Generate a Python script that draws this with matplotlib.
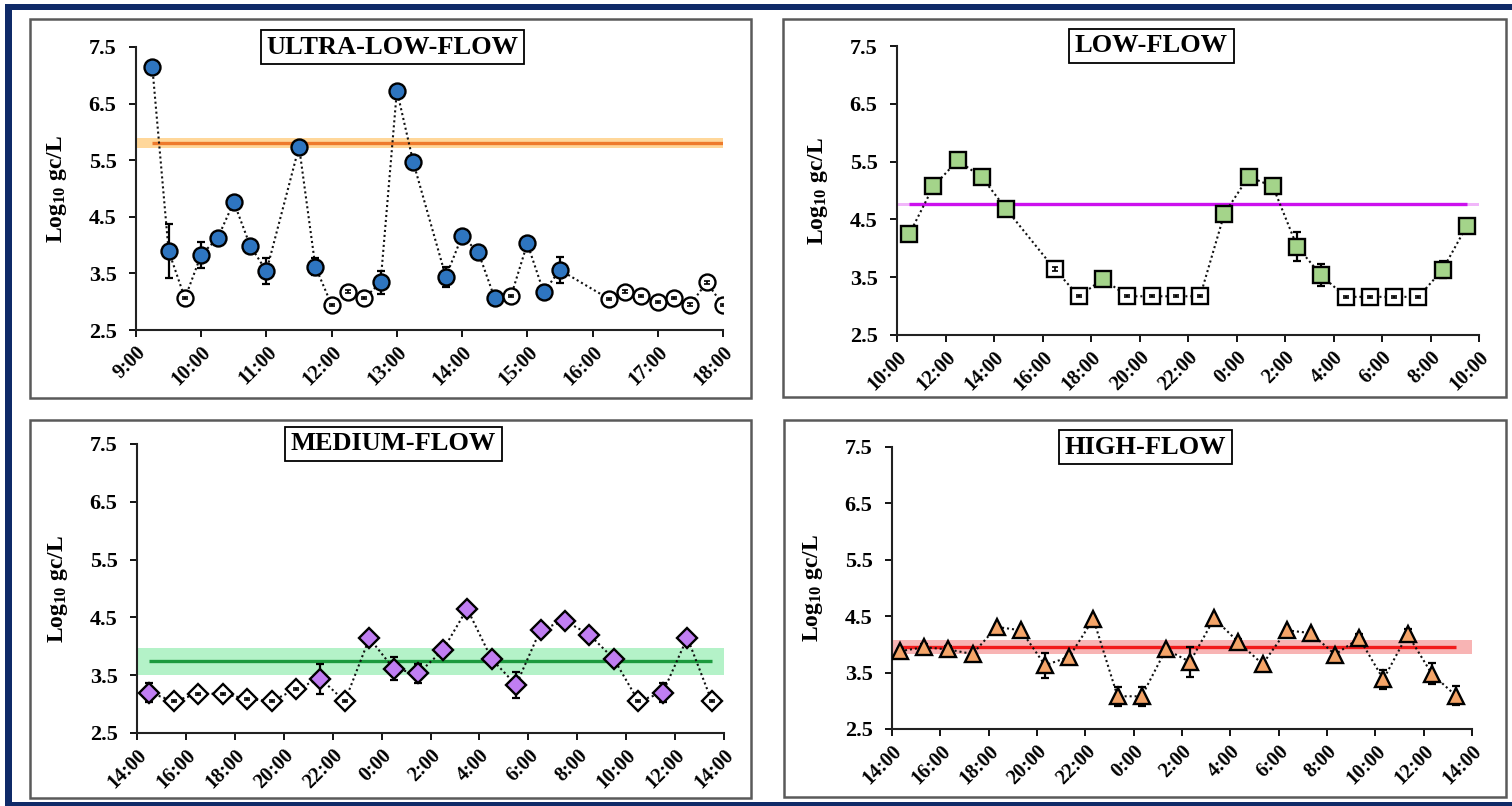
import matplotlib
matplotlib.use("Agg")
import matplotlib.pyplot as plt
import numpy as np
from matplotlib.patches import Rectangle

plt.rcParams['font.family'] = ['Liberation Serif', 'DejaVu Serif']
plt.rcParams['font.weight'] = 'bold'
plt.rcParams['mathtext.fontset'] = 'custom'
plt.rcParams['mathtext.rm'] = 'Liberation Serif:bold'
plt.rcParams['mathtext.bf'] = 'Liberation Serif:bold'
plt.rcParams['mathtext.it'] = 'Liberation Serif:bold'

# ---------------- DATA ----------------
# ULTRA-LOW-FLOW
ulf_times = ["9:15", "9:30", "9:45", "10:00", "10:15", "10:30", "10:45", "11:00", "11:30", "11:45",
             "12:00", "12:15", "12:30", "12:45", "13:00", "13:15", "13:45", "14:00", "14:15", "14:30",
             "14:45", "15:00", "15:15", "15:30", "16:15", "16:30", "16:45", "17:00", "17:15", "17:30",
             "17:45", "18:00"]
ulf_values = [7.15, 3.90, 3.06, 3.83, 4.12, 4.76, 3.99, 3.54, 5.74, 3.62,
              2.94, 3.18, 3.06, 3.34, 6.73, 5.47, 3.44, 4.16, 3.87, 3.06,
              3.10, 4.03, 3.17, 3.56, 3.05, 3.18, 3.10, 3.00, 3.06, 2.95,
              3.34, 2.94]
ulf_errors = [0.0, 0.48, 0.02, 0.23, 0.0, 0.0, 0.0, 0.23, 0.0, 0.15,
              0.02, 0.02, 0.02, 0.20, 0.0, 0.0, 0.18, 0.0, 0.0, 0.0,
              0.02, 0.0, 0.06, 0.23, 0.02, 0.02, 0.02, 0.02, 0.02, 0.02,
              0.02, 0.02]
ulf_below_lod = [0, 0, 1, 0, 0, 0, 0, 0, 0, 0,
                 1, 1, 1, 0, 0, 0, 0, 0, 0, 0,
                 1, 0, 0, 0, 1, 1, 1, 1, 1, 1,
                 1, 1]
ulf_mean = 5.81
ulf_band = (5.71, 5.90)
ulf_ticks = ["9:00", "10:00", "11:00", "12:00", "13:00", "14:00", "15:00", "16:00", "17:00", "18:00"]

# LOW-FLOW
lf_times = ["10:30", "11:30", "12:30", "13:30", "14:30", "16:30", "17:30", "18:30", "19:30", "20:30",
            "21:30", "22:30", "23:30", "0:30", "1:30", "2:30", "3:30", "4:30", "5:30", "6:30",
            "7:30", "8:30", "9:30"]
lf_values = [4.24, 5.07, 5.52, 5.23, 4.68, 3.64, 3.17, 3.47, 3.17, 3.17,
             3.17, 3.17, 4.60, 5.24, 5.07, 4.03, 3.53, 3.16, 3.16, 3.16,
             3.16, 3.63, 4.39]
lf_errors = [0.0, 0.0, 0.0, 0.0, 0.0, 0.03, 0.02, 0.05, 0.02, 0.02,
             0.02, 0.02, 0.0, 0.0, 0.0, 0.25, 0.19, 0.02, 0.02, 0.02,
             0.02, 0.15, 0.0]
lf_below_lod = [0, 0, 0, 0, 0, 1, 1, 0, 1, 1,
                1, 1, 0, 0, 0, 0, 0, 1, 1, 1,
                1, 0, 0]
lf_mean = 4.76
lf_band = (4.73, 4.79)
lf_ticks = ["10:00", "12:00", "14:00", "16:00", "18:00", "20:00", "22:00", "0:00", "2:00",
            "4:00", "6:00", "8:00", "10:00"]

# MEDIUM-FLOW
mf_times = ["14:30", "15:30", "16:30", "17:30", "18:30", "19:30", "20:30", "21:30", "22:30", "23:30",
            "0:30", "1:30", "2:30", "3:30", "4:30", "5:30", "6:30", "7:30", "8:30", "9:30",
            "10:30", "11:30", "12:30", "13:30"]
mf_values = [3.20, 3.05, 3.18, 3.18, 3.09, 3.05, 3.26, 3.44, 3.05, 4.14,
             3.61, 3.53, 3.93, 4.65, 3.78, 3.33, 4.29, 4.44, 4.20, 3.78,
             3.05, 3.20, 4.15, 3.05]
mf_errors = [0.16, 0.02, 0.02, 0.02, 0.02, 0.02, 0.02, 0.26, 0.02, 0.0,
             0.20, 0.17, 0.0, 0.0, 0.0, 0.22, 0.0, 0.0, 0.0, 0.0,
             0.02, 0.16, 0.0, 0.02]
mf_below_lod = [0, 1, 1, 1, 1, 1, 1, 0, 1, 0,
                0, 0, 0, 0, 0, 0, 0, 0, 0, 0,
                1, 0, 0, 1]
mf_mean = 3.75
mf_band = (3.51, 3.97)
mf_ticks = ["14:00", "16:00", "18:00", "20:00", "22:00", "0:00", "2:00", "4:00", "6:00",
            "8:00", "10:00", "12:00", "14:00"]

# HIGH-FLOW
hf_times = ["14:20", "15:20", "16:20", "17:20", "18:20", "19:20", "20:20", "21:20", "22:20", "23:20",
            "0:20", "1:20", "2:20", "3:20", "4:20", "5:20", "6:20", "7:20", "8:20", "9:20",
            "10:20", "11:20", "12:20", "13:20"]
hf_values = [3.88, 3.95, 3.91, 3.83, 4.31, 4.25, 3.63, 3.78, 4.45, 3.08,
             3.08, 3.91, 3.69, 4.46, 4.04, 3.65, 4.25, 4.20, 3.82, 4.11,
             3.38, 4.18, 3.48, 3.09]
hf_errors = [0.04, 0.06, 0.06, 0.04, 0.04, 0.04, 0.22, 0.04, 0.04, 0.17,
             0.17, 0.04, 0.26, 0.03, 0.05, 0.03, 0.04, 0.04, 0.04, 0.08,
             0.17, 0.09, 0.19, 0.17]
hf_below_lod = [0] * 24
hf_mean = 3.95
hf_band = (3.83, 4.07)
hf_ticks = mf_ticks

# ---------------- FIGURE ----------------
W, H = 1512, 806
fig = plt.figure(figsize=(W / 100, H / 100), dpi=100)
fig.patch.set_facecolor('white')


def fig_rect(l, t, r, b, **kw):
    fig.patches.append(Rectangle((l / W, 1 - b / H), (r - l) / W, (b - t) / H,
                                 transform=fig.transFigure, figure=fig, **kw))


# navy frame
navy = '#0f2a68'
fig_rect(5, 4, W, 10, facecolor=navy, edgecolor='none')
fig_rect(5, 4, 12, H, facecolor=navy, edgecolor='none')
fig_rect(5, 802, W, H, facecolor=navy, edgecolor='none')

# panel boxes
for (l, t, r, b) in [(30, 19, 751, 398), (783, 19, 1506, 397),
                     (30, 420, 751, 798), (784, 420, 1506, 797)]:
    fig_rect(l, t, r, b, facecolor='white', edgecolor='#5a5a5a', linewidth=1.8, zorder=-1)


def px_axes(l, t, r, b):
    return fig.add_axes([l / W, 1 - b / H, (r - l) / W, (b - t) / H])


def to_hours(t, start):
    h, m = t.split(':')
    return (int(h) + int(m) / 60.0 - start) % 24


def panel(ax, title, times, values, errors, below, start, color, marker, ms,
          mean, band, line_col, band_col, ticks, step):
    x = np.array([to_hours(t, start) for t in times])
    y = np.array(values)
    e = np.array(errors)
    op = np.array(below, dtype=bool)
    xmax = step * (len(ticks) - 1)

    ax.axhspan(band[0], band[1], color=band_col, lw=0, zorder=1)
    ax.hlines(mean, x[0], x[-1], color=line_col, lw=2.4, zorder=2)
    ax.plot(x, y, ls=(0, (1, 1.4)), color='#111111', lw=1.5, zorder=3)

    f = ~op
    ax.errorbar(x[f], y[f], yerr=e[f], fmt='none', ecolor='black', elinewidth=1.6,
                capsize=3.2, capthick=1.6, zorder=4)
    ax.plot(x[f], y[f], ls='none', marker=marker, ms=ms, mfc=color, mec='black',
            mew=1.7, zorder=5)
    ax.plot(x[op], y[op], ls='none', marker=marker, ms=ms, mfc='white', mec='black',
            mew=1.7, zorder=5)
    ax.errorbar(x[op], y[op], yerr=e[op], fmt='none', ecolor='black', elinewidth=1.2,
                capsize=2.5, capthick=1.2, zorder=6)

    ax.set_xlim(0, xmax)
    ax.set_ylim(2.5, 7.5)
    ax.set_yticks([2.5, 3.5, 4.5, 5.5, 6.5, 7.5])
    ax.set_yticklabels(['2.5', '3.5', '4.5', '5.5', '6.5', '7.5'])
    ax.set_xticks(np.arange(len(ticks)) * step)
    ax.set_xticklabels(ticks, rotation=45, ha='right', rotation_mode='anchor')
    for s in ['top', 'right']:
        ax.spines[s].set_visible(False)
    for s in ['left', 'bottom']:
        ax.spines[s].set_linewidth(1.5)
        ax.spines[s].set_color('#222222')
    ax.tick_params(direction='out', length=5, width=1.3, labelsize=16)
    ax.tick_params(axis='y', pad=9)
    ax.tick_params(axis='x', pad=4, labelsize=14.5)
    for lab in ax.get_xticklabels() + ax.get_yticklabels():
        lab.set_fontweight('bold')
    ax.set_ylabel(r'Log$_{10}$ gc/L', fontsize=17, fontweight='bold', labelpad=14)
    ax.patch.set_alpha(0)
    ax.text(0.437, 1.0, title, transform=ax.transAxes, ha='center', va='center',
            fontsize=19, fontweight='bold', zorder=10, clip_on=False,
            bbox=dict(boxstyle='square,pad=0.22', fc='white', ec='black', lw=1.3))


ax1 = px_axes(136, 47, 723, 330)
panel(ax1, 'ULTRA-LOW-FLOW', ulf_times, ulf_values, ulf_errors, ulf_below_lod, 9,
      '#2e75c0', 'o', 11.5, ulf_mean, ulf_band, '#ee7a2c', '#ffd79a', ulf_ticks, 1)

ax2 = px_axes(897, 46, 1479, 335)
panel(ax2, 'LOW-FLOW', lf_times, lf_values, lf_errors, lf_below_lod, 10,
      '#a4d48a', 's', 11, lf_mean, lf_band, '#cc11ee', '#f1b6fa', lf_ticks, 2)

ax3 = px_axes(137, 444, 724, 733)
panel(ax3, 'MEDIUM-FLOW', mf_times, mf_values, mf_errors, mf_below_lod, 14,
      '#c07ef2', 'D', 10, mf_mean, mf_band, '#1c9a3e', '#b4f2c8', mf_ticks, 2)

ax4 = px_axes(892, 447, 1472, 729)
panel(ax4, 'HIGH-FLOW', hf_times, hf_values, hf_errors, hf_below_lod, 14,
      '#f4a468', '^', 11.5, hf_mean, hf_band, '#f21a1a', '#f8b4b4', hf_ticks, 2)

fig.savefig('out.png', dpi=100)
